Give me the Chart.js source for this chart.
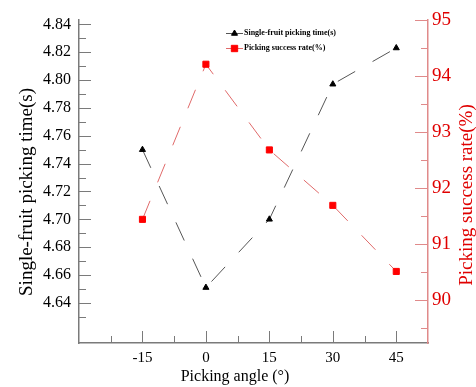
<!DOCTYPE html>
<html>
<head>
<meta charset="utf-8">
<script src="https://cdn.jsdelivr.net/npm/chart.js@4"></script>
<style>
  html, body { margin: 0; padding: 0; background: #fff; }
  #wrap { width: 476px; height: 387px; }
</style>
</head>
<body>
<div id="wrap"><canvas id="angleChart" width="476" height="387"></canvas></div>
<script>
// dati
const angles = [-15, 0, 15, 30, 45];
const pickTime = [4.75, 4.651, 4.70, 4.797, 4.823];
const successRate = [91.44, 94.21, 92.68, 91.69, 90.51];

// tacche degli assi
const xTicks = [-15, 0, 15, 30, 45];
const xMinor = [-22.5, -7.5, 7.5, 22.5, 37.5];
const timeTicks = [4.64, 4.66, 4.68, 4.70, 4.72, 4.74, 4.76, 4.78, 4.80, 4.82, 4.84];
const timeMinor = [4.63, 4.65, 4.67, 4.69, 4.71, 4.73, 4.75, 4.77, 4.79, 4.81, 4.83];
const rateTicks = [90, 91, 92, 93, 94, 95];
const rateMinor = [89.5, 90.5, 91.5, 92.5, 93.5, 94.5];

const serif = "'Liberation Serif', 'Times New Roman', serif";
const RED = "#e00000";
const PINK = "#e08a8a";
const GREY = "#7a7a7a";

// tacche interne e titoli degli assi
const axisDecor = {
  id: "axisDecor",
  afterDraw(chart) {
    const { ctx, chartArea: a, scales } = chart;
    ctx.save();
    ctx.lineWidth = 1;

    function vTicks(scale, values, len, color, fromX, dir) {
      ctx.strokeStyle = color;
      ctx.beginPath();
      values.forEach(v => {
        const y = Math.round(scale.getPixelForValue(v)) + 0.5;
        ctx.moveTo(fromX, y);
        ctx.lineTo(fromX + dir * len, y);
      });
      ctx.stroke();
    }
    vTicks(scales.y, timeTicks, 12, GREY, a.left, 1);
    vTicks(scales.y, timeMinor, 7, GREY, a.left, 1);
    vTicks(scales.y1, rateTicks, 13, PINK, a.right, -1);
    vTicks(scales.y1, rateMinor, 7, PINK, a.right, -1);

    ctx.strokeStyle = GREY;
    ctx.beginPath();
    xTicks.forEach(v => {
      const x = Math.round(scales.x.getPixelForValue(v)) + 0.5;
      ctx.moveTo(x, a.bottom);
      ctx.lineTo(x, a.bottom - 12);
    });
    xMinor.forEach(v => {
      const x = Math.round(scales.x.getPixelForValue(v)) + 0.5;
      ctx.moveTo(x, a.bottom);
      ctx.lineTo(x, a.bottom - 7);
    });
    ctx.stroke();

    // titoli
    ctx.textAlign = "center";
    ctx.textBaseline = "middle";
    ctx.font = "19px " + serif;
    ctx.fillStyle = "#000";
    ctx.save();
    ctx.translate(27, 192);
    ctx.rotate(-Math.PI / 2);
    ctx.fillText("Single-fruit picking time(s)", 0, 0);
    ctx.restore();

    ctx.fillStyle = RED;
    ctx.save();
    ctx.translate(467, 195);
    ctx.rotate(-Math.PI / 2);
    ctx.fillText("Picking success rate(%)", 0, 0);
    ctx.restore();

    ctx.font = "16px " + serif;
    ctx.fillStyle = "#000";
    ctx.fillText("Picking angle (\u00b0)", 235, 377);
    ctx.restore();
  }
};

// legenda dentro l'area del grafico
const innerLegend = {
  id: "innerLegend",
  afterDraw(chart) {
    const { ctx } = chart;
    ctx.save();
    ctx.font = "bold 8px " + serif;
    ctx.textBaseline = "middle";
    ctx.textAlign = "left";
    chart.data.datasets.forEach((ds, i) => {
      const y = 33 + i * 15;
      ctx.strokeStyle = ds.borderColor;
      ctx.lineWidth = 1;
      ctx.setLineDash([]);
      ctx.beginPath();
      ctx.moveTo(226, y + 0.5);
      ctx.lineTo(243, y + 0.5);
      ctx.stroke();
      ctx.fillStyle = ds.pointBackgroundColor;
      ctx.strokeStyle = ds.pointBorderColor;
      Chart.helpers.drawPoint(ctx, {
        pointStyle: ds.pointStyle,
        radius: ds.pointStyle === "rect" ? 4.5 : 3.5,
        borderWidth: 1
      }, 234.5, y + 0.5);
      ctx.fillStyle = "#000";
      ctx.fillText(ds.label, 244, y);
    });
    ctx.restore();
  }
};

const ctx = document.getElementById("angleChart").getContext("2d");
const chart = new Chart(ctx, {
  type: "line",
  data: {
    datasets: [{
      label: "Single-fruit picking time(s)",
      data: angles.map((a, i) => ({ x: a, y: pickTime[i] })),
      yAxisID: "y",
      borderColor: "#555555",
      borderWidth: 1,
      borderDash: [20, 20],
      pointStyle: "triangle",
      pointRadius: 3.5,
      pointBackgroundColor: "#000",
      pointBorderColor: "#000",
      pointBorderWidth: 1,
      tension: 0
    }, {
      label: "Picking success rate(%)",
      data: angles.map((a, i) => ({ x: a, y: successRate[i] })),
      yAxisID: "y1",
      borderColor: "#e06a6a",
      borderWidth: 1,
      borderDash: [20, 20],
      pointStyle: "rect",
      pointRadius: 4.3,
      pointBackgroundColor: "#ff0000",
      pointBorderColor: "#ff0000",
      pointBorderWidth: 1,
      tension: 0
    }]
  },
  options: {
    responsive: false,
    animation: false,
    devicePixelRatio: 1,
    layout: { padding: { top: 20, left: 0, right: 0, bottom: 0 } },
    plugins: {
      legend: { display: false },
      tooltip: { enabled: false }
    },
    scales: {
      x: {
        type: "linear",
        min: -30,
        max: 52.5,
        afterBuildTicks: s => { s.ticks = xTicks.map(v => ({ value: v })); },
        afterFit: s => { s.height = 44; },
        grid: { display: false, drawTicks: false },
        border: { display: true, color: GREY, width: 1.5 },
        ticks: {
          padding: 6,
          color: "#000",
          font: { family: serif, size: 15 },
          autoSkip: false,
          maxRotation: 0
        }
      },
      y: {
        position: "left",
        min: 4.6112,
        max: 4.8431,
        afterBuildTicks: s => { s.ticks = timeTicks.map(v => ({ value: v })); },
        afterFit: s => { s.width = 79; },
        grid: { display: false, drawTicks: false },
        border: { display: true, color: GREY, width: 1.5 },
        ticks: {
          padding: 8,
          color: "#000",
          font: { family: serif, size: 16 },
          callback: v => v.toFixed(2)
        }
      },
      y1: {
        position: "right",
        min: 89.232,
        max: 95,
        afterBuildTicks: s => { s.ticks = rateTicks.map(v => ({ value: v })); },
        afterFit: s => { s.width = 48; },
        grid: { display: false, drawTicks: false },
        border: { display: true, color: PINK, width: 1.5 },
        ticks: {
          padding: 4,
          color: RED,
          font: { family: serif, size: 19 }
        }
      }
    }
  },
  plugins: [axisDecor, innerLegend]
});
</script>
</body>
</html>
